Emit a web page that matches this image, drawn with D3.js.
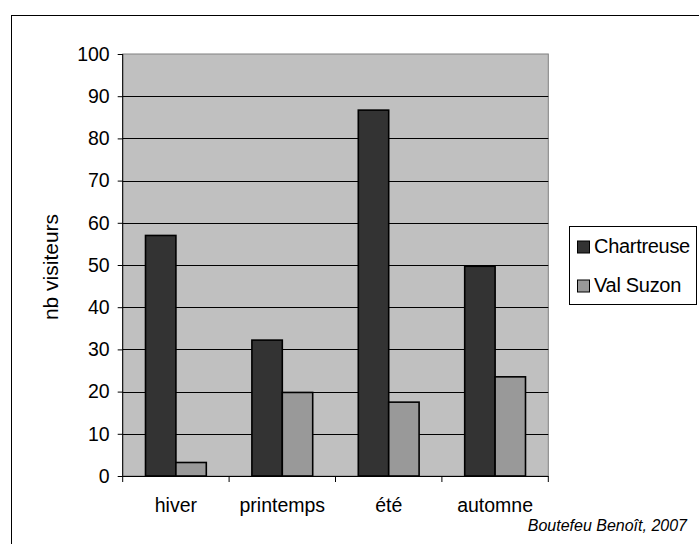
<!DOCTYPE html>
<html>
<head>
<meta charset="utf-8">
<script src="https://cdn.jsdelivr.net/npm/d3@7"></script>
<style>
  html, body { margin: 0; padding: 0; background: #fff; }
  svg { display: block; }
  text { font-family: "Liberation Sans", Arial, sans-serif; fill: #000; }
</style>
</head>
<body>
<svg id="chart" width="699" height="544"></svg>
<script>
const categories = ["hiver", "printemps", "été", "automne"];
const seriesNames = ["Chartreuse", "Val Suzon"];
const chartreuse = [57, 32.2, 86.7, 49.7];
const valSuzon = [3.2, 19.8, 17.5, 23.5];
const yTicks = [0, 10, 20, 30, 40, 50, 60, 70, 80, 90, 100];
const colors = ["#333333", "#999999"];

(function () {
const svg = d3.select("#chart");

// outer chart border
svg.append("rect").attr("x", 11.5).attr("y", 15.5).attr("width", 720).attr("height", 620)
  .attr("fill", "#fff").attr("stroke", "#000").attr("stroke-width", 1);

const pLeft = 122.7, pRight = 548.3, pTop = 54, pBottom = 476;

const x = d3.scaleBand().domain(categories).range([pLeft, pRight]).padding(0);
const xs = d3.scaleBand().domain(seriesNames).range([0, x.bandwidth()])
  .paddingInner(0).paddingOuter(0.75);
const y = d3.scaleLinear().domain([0, 100]).range([pBottom, pTop]);

// plot area background
svg.append("rect").attr("x", pLeft).attr("y", pTop).attr("width", pRight - pLeft).attr("height", pBottom - pTop)
  .attr("fill", "#C0C0C0").attr("stroke", "#808080").attr("stroke-width", 1);

// gridlines
svg.append("g").selectAll("line").data(yTicks.filter(d => d > 0 && d < 100)).join("line")
  .attr("x1", pLeft).attr("x2", pRight)
  .attr("y1", d => Math.round(y(d)) + 0.5).attr("y2", d => Math.round(y(d)) + 0.5)
  .attr("stroke", "#000").attr("stroke-width", 1);

// bars
const data = [chartreuse, valSuzon];
seriesNames.forEach((s, si) => {
  svg.append("g").selectAll("rect").data(categories).join("rect")
    .attr("x", c => x(c) + xs(s))
    .attr("y", (c, i) => y(data[si][i]))
    .attr("width", xs.bandwidth())
    .attr("height", (c, i) => y(0) - y(data[si][i]))
    .attr("fill", colors[si])
    .attr("stroke", "#000").attr("stroke-width", 1.6);
});

// y axis
const yAxis = svg.append("g").attr("transform", `translate(${pLeft},0)`)
  .call(d3.axisLeft(y).tickValues(yTicks).tickSize(5).tickPadding(8).tickFormat(d3.format("d")));
yAxis.select(".domain").attr("stroke", "#000").attr("d", `M0,${pTop}V${pBottom}`);
yAxis.selectAll(".tick line").attr("stroke", "#000");
yAxis.selectAll("text").style("font-size", "19.5px").attr("fill", "#000")
  .style("font-family", '"Liberation Sans", Arial, sans-serif');

// x axis
const xAxis = svg.append("g").attr("transform", `translate(0,${pBottom})`)
  .call(d3.axisBottom(x).tickSize(0).tickPadding(22));
xAxis.select(".domain").remove();
xAxis.selectAll("text").style("font-size", "19.5px").attr("fill", "#000")
  .style("font-family", '"Liberation Sans", Arial, sans-serif');
svg.append("line").attr("x1", pLeft).attr("x2", pRight).attr("y1", pBottom + 0.5).attr("y2", pBottom + 0.5)
  .attr("stroke", "#000");
const bounds = categories.map(c => x(c)).concat([pRight]);
svg.append("g").selectAll("line").data(bounds).join("line")
  .attr("x1", d => d).attr("x2", d => d).attr("y1", pBottom).attr("y2", pBottom + 6)
  .attr("stroke", "#000");

// y axis title
svg.append("text").attr("transform", `translate(58,267) rotate(-90)`)
  .attr("text-anchor", "middle").style("font-size", "21px").text("nb visiteurs");

// legend
const lg = svg.append("g");
lg.append("rect").attr("x", 569.5).attr("y", 226.5).attr("width", 127).attr("height", 78)
  .attr("fill", "#fff").attr("stroke", "#000");
seriesNames.forEach((s, i) => {
  const cy = 247 + i * 39;
  lg.append("rect").attr("x", 577.5).attr("y", cy - 6).attr("width", 12).attr("height", 12)
    .attr("fill", colors[i]).attr("stroke", "#000");
  lg.append("text").attr("x", 594).attr("y", cy + 5.5).style("font-size", "20px")
    .style("letter-spacing", "-0.3px").text(s);
});

// footer
svg.append("text").attr("x", 687).attr("y", 531).attr("text-anchor", "end")
  .style("font-size", "16px").style("font-style", "italic").text("Boutefeu Benoît, 2007");
})();
</script>
</body>
</html>
